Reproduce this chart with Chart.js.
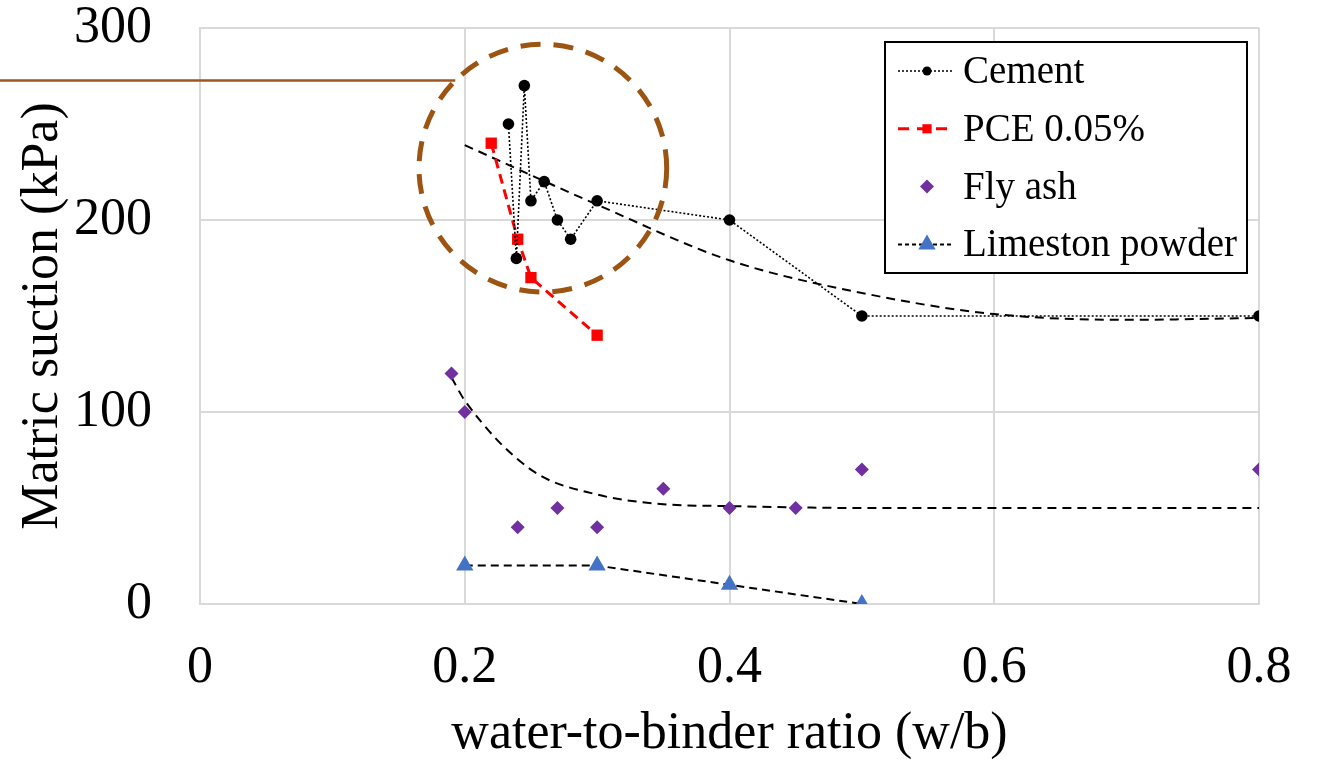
<!DOCTYPE html>
<html>
<head>
<meta charset="utf-8">
<script src="https://cdn.jsdelivr.net/npm/chart.js@4.4.1/dist/chart.umd.min.js"></script>
<style>
html, body { margin: 0; padding: 0; background: #fff; }
#wrap { width: 1319px; height: 760px; }
</style>
</head>
<body>
<div id="wrap"><canvas id="myChart"></canvas></div>
<script>
// measured points
var cementX = [0.233, 0.239, 0.245, 0.25, 0.26, 0.27, 0.28, 0.3, 0.4, 0.5, 0.8];
var cementY = [250, 180, 270, 210, 220, 200, 190, 210, 200, 150, 150];
var pceX = [0.22, 0.24, 0.25, 0.3];
var pceY = [240, 190, 170, 140];
var flyAshX = [0.19, 0.2, 0.24, 0.27, 0.3, 0.35, 0.4, 0.45, 0.5, 0.8];
var flyAshY = [120, 100, 40, 50, 40, 60, 50, 50, 70, 70];
var limeX = [0.2, 0.3, 0.4, 0.5];
var limeY = [20, 20, 10, 0];

// trend curves
var cementTrendX = [0.2, 0.3, 0.4, 0.5, 0.6, 0.7, 0.8];
var cementTrendY = [239, 208, 179, 162, 151, 148, 149];
var flyTrendX = [0.19, 0.2, 0.25, 0.3, 0.35, 0.4, 0.5, 0.8];
var flyTrendY = [118, 106, 70, 57, 52, 51, 50, 50];

var xTicks = [0, 0.2, 0.4, 0.6, 0.8];
var yTicks = [0, 100, 200, 300];

// highlighted region (w/b, kPa)
var circleCenter = [0.259, 227];
var circleRadiusKPa = 64.5;

function pts(xs, ys) {
  return xs.map(function (x, i) { return { x: x, y: ys[i] }; });
}

var serif = 'Liberation Serif, Times New Roman, serif';

function marker(ctx, style, x, y, r, color) {
  ctx.fillStyle = color;
  ctx.beginPath();
  if (style === 'circle') {
    ctx.arc(x, y, r, 0, Math.PI * 2);
  } else if (style === 'rect') {
    var s = r * Math.SQRT1_2;
    ctx.rect(x - s, y - s, 2 * s, 2 * s);
  } else if (style === 'rectRot') {
    ctx.moveTo(x, y - r); ctx.lineTo(x + r, y); ctx.lineTo(x, y + r); ctx.lineTo(x - r, y);
  } else if (style === 'triangle') {
    var e = r * Math.sqrt(3) / 2;
    ctx.moveTo(x, y - r); ctx.lineTo(x + e, y + r / 2); ctx.lineTo(x - e, y + r / 2);
  }
  ctx.closePath();
  ctx.fill();
}

const boxLegend = {
  id: 'boxLegend',
  afterDraw(chart, args, o) {
    const ctx = chart.ctx;
    ctx.save();
    ctx.fillStyle = '#fff';
    ctx.fillRect(o.left, o.top, o.width, o.height);
    ctx.lineWidth = 2;
    ctx.strokeStyle = '#000';
    ctx.setLineDash([]);
    ctx.strokeRect(o.left, o.top, o.width, o.height);
    chart.data.datasets.forEach(function (ds) {
      if (ds.legendRow === undefined) return;
      var y = o.top + o.firstRow + ds.legendRow * o.rowGap;
      if (ds.showLine !== false) {
        ctx.save();
        ctx.strokeStyle = ds.borderColor;
        ctx.lineWidth = ds.borderWidth;
        ctx.setLineDash(ds.legendDash || ds.borderDash || []);
        ctx.beginPath();
        ctx.moveTo(o.left + o.lineStart, y);
        ctx.lineTo(o.left + o.lineEnd, y);
        ctx.stroke();
        ctx.restore();
      }
      marker(ctx, ds.pointStyle, o.left + o.markX, y, ds.legendRadius, ds.pointBackgroundColor);
      ctx.fillStyle = '#000';
      ctx.font = o.fontSize + 'px ' + serif;
      ctx.textBaseline = 'alphabetic';
      ctx.textAlign = 'left';
      ctx.fillText(ds.label, o.left + o.textX, y + o.baseShift);
    });
    ctx.restore();
  }
};

const circleNote = {
  id: 'circleNote',
  afterDatasetsDraw(chart, args, o) {
    const ctx = chart.ctx, xs = chart.scales.x, ys = chart.scales.y;
    var cx = xs.getPixelForValue(circleCenter[0]);
    var cy = ys.getPixelForValue(circleCenter[1]);
    var r = ys.getPixelForValue(0) - ys.getPixelForValue(circleRadiusKPa);
    ctx.save();
    ctx.strokeStyle = o.color;
    ctx.lineWidth = 5;
    ctx.setLineDash([20, 13]);
    ctx.beginPath();
    ctx.arc(cx, cy, r, 0, Math.PI * 2);
    ctx.stroke();
    // callout line to the left edge
    var ex = cx - r * Math.SQRT1_2, ey = cy - r * Math.SQRT1_2;
    ctx.setLineDash([]);
    ctx.lineWidth = 2.5;
    ctx.strokeStyle = o.lineColor;
    ctx.beginPath();
    ctx.moveTo(0, ey);
    ctx.lineTo(ex, ey);
    ctx.stroke();
    ctx.restore();
  }
};

var myChart = document.getElementById('myChart');

var chart = new Chart(myChart, {
  type: 'line',
  data: {
    datasets: [{
      label: 'Cement',
      data: pts(cementX, cementY),
      borderColor: '#000',
      borderWidth: 1.6,
      borderDash: [2, 2],
      pointStyle: 'circle',
      pointRadius: 5.8,
      pointBorderWidth: 0,
      pointBackgroundColor: '#000',
      legendRow: 0,
      legendRadius: 4.5
    }, {
      label: 'PCE 0.05%',
      data: pts(pceX, pceY),
      borderColor: '#ff0000',
      borderWidth: 3,
      borderDash: [10, 6],
      pointStyle: 'rect',
      pointRadius: 8,
      pointBorderWidth: 0,
      pointBackgroundColor: '#ff0000',
      legendRow: 1,
      legendRadius: 6.5,
      legendDash: [11, 8]
    }, {
      label: 'Fly ash',
      data: pts(flyAshX, flyAshY),
      showLine: false,
      borderColor: '#7030a0',
      pointStyle: 'rectRot',
      pointRadius: 7,
      pointBorderWidth: 0,
      pointBackgroundColor: '#7030a0',
      legendRow: 2,
      legendRadius: 7
    }, {
      label: 'Limeston powder',
      data: pts(limeX, limeY),
      borderColor: '#000',
      borderWidth: 2,
      borderDash: [8, 5],
      pointStyle: 'triangle',
      pointRadius: 10,
      pointBorderWidth: 0,
      pointBackgroundColor: '#4472c4',
      legendRow: 3,
      legendRadius: 10,
      legendDash: [4, 3]
    }, {
      label: 'Cement trend',
      data: pts(cementTrendX, cementTrendY),
      borderColor: '#000',
      borderWidth: 2,
      borderDash: [9, 6],
      pointRadius: 0,
      cubicInterpolationMode: 'monotone'
    }, {
      label: 'Fly ash trend',
      data: pts(flyTrendX, flyTrendY),
      borderColor: '#000',
      borderWidth: 2,
      borderDash: [9, 6],
      pointRadius: 0,
      cubicInterpolationMode: 'monotone'
    }]
  },
  options: {
    responsive: true,
    maintainAspectRatio: false,
    animation: false,
    layout: { padding: { top: 28, right: 60, left: 0, bottom: 0 } },
    plugins: {
      legend: { display: false },
      tooltip: { enabled: false },
      boxLegend: {
        left: 885, top: 42, width: 362, height: 231,
        firstRow: 29, rowGap: 57.8,
        lineStart: 13, lineEnd: 68, markX: 42, textX: 78,
        fontSize: 39, baseShift: 12
      },
      circleNote: { color: '#9c5412', lineColor: '#a0561e' }
    },
    scales: {
      x: {
        type: 'linear',
        min: 0,
        max: 0.8,
        afterBuildTicks: function (s) { s.ticks = xTicks.map(function (v) { return { value: v }; }); },
        afterFit: function (s) { s.height = 156; s.paddingLeft = 0; s.paddingRight = 0; },
        ticks: {
          color: '#000',
          font: { family: serif, size: 52 },
          padding: 33,
          maxRotation: 0,
          callback: function (v) { return String(v); }
        },
        grid: { color: '#d9d9d9', lineWidth: 2, drawTicks: false },
        border: { color: '#d9d9d9', width: 2 },
        title: {
          display: true,
          text: 'water-to-binder ratio (w/b)',
          color: '#000',
          font: { family: serif, size: 52, lineHeight: 1 },
          padding: { top: 0, bottom: 0 }
        }
      },
      y: {
        min: 0,
        max: 300,
        afterBuildTicks: function (s) { s.ticks = yTicks.map(function (v) { return { value: v }; }); },
        afterFit: function (s) { s.width = 200; s.paddingTop = 0; s.paddingBottom = 0; },
        ticks: {
          color: '#000',
          font: { family: serif, size: 52 },
          padding: 48
        },
        grid: { color: '#d9d9d9', lineWidth: 2, drawTicks: false },
        border: { color: '#d9d9d9', width: 2 },
        title: {
          display: true,
          text: 'Matric suction (kPa)',
          color: '#000',
          font: { family: serif, size: 52, lineHeight: 1 },
          padding: { top: 17, bottom: 0 }
        }
      }
    }
  },
  plugins: [circleNote, boxLegend]
});
</script>
</body>
</html>
